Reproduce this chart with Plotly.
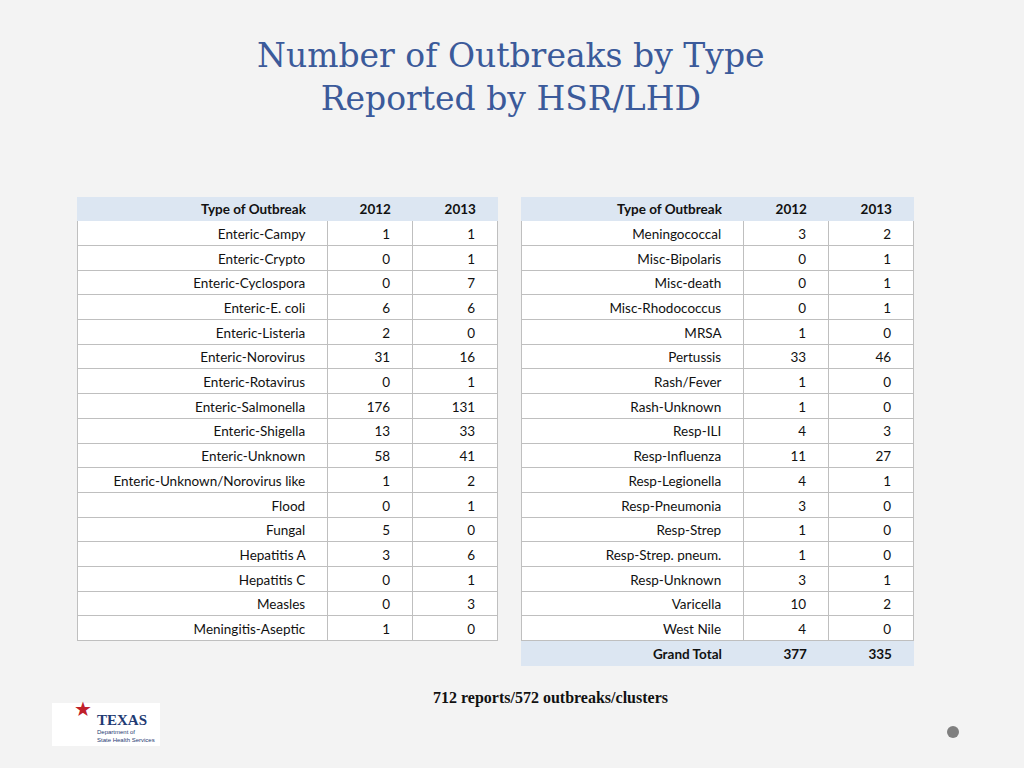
import plotly.graph_objects as go

left_types = ["Enteric-Campy","Enteric-Crypto","Enteric-Cyclospora","Enteric-E. coli","Enteric-Listeria",
              "Enteric-Norovirus","Enteric-Rotavirus","Enteric-Salmonella","Enteric-Shigella","Enteric-Unknown",
              "Enteric-Unknown/Norovirus like","Flood","Fungal","Hepatitis A","Hepatitis C","Measles","Meningitis-Aseptic"]
left_2012 = [1,0,0,6,2,31,0,176,13,58,1,0,5,3,0,0,1]
left_2013 = [1,1,7,6,0,16,1,131,33,41,2,1,0,6,1,3,0]

right_types = ["Meningococcal","Misc-Bipolaris","Misc-death","Misc-Rhodococcus","MRSA","Pertussis","Rash/Fever",
               "Rash-Unknown","Resp-ILI","Resp-Influenza","Resp-Legionella","Resp-Pneumonia","Resp-Strep",
               "Resp-Strep. pneum.","Resp-Unknown","Varicella","West Nile"]
right_2012 = [3,0,0,0,1,33,1,1,4,11,4,3,1,1,3,10,4]
right_2013 = [2,1,1,1,0,46,0,0,3,27,1,0,0,0,1,2,0]
total_label = "Grand Total"
total_2012 = 377
total_2013 = 335
headers = ["Type of Outbreak", "2012", "2013"]

NB = "\u00a0"
def pad(v, n=4):
    return f"{v}" + NB * n

W, H = 1024, 768
BG = "#f3f3f3"
ROW = 24.7
HDR_GAP = 16   # empty plotly header height, hidden above each table
fig = go.Figure()
hfill = "#dce6f2"
line = "#bfbfbf"

def table(x0, x1, widths, top_px, cols, fill, lcolor, weight):
    fig.add_trace(go.Table(
        domain=dict(x=[x0 / W, x1 / W], y=[0.0, 1 - (top_px - HDR_GAP) / H]),
        columnwidth=widths,
        header=dict(values=[], fill_color=BG, line_color=BG),
        cells=dict(values=[[pad(v) for v in c] for c in cols], align="right", height=ROW,
                   fill_color=fill, line_color=lcolor,
                   font=dict(family="Lato, Open Sans, sans-serif", size=13.5, color="#111",
                             weight=weight)),
    ))

def add_block(x0, x1, widths, names, a, b, total=None):
    top = 196
    n = len(names)
    if total is not None:
        table(x0, x1, widths, top + ROW * (n + 1), [[total[0]], [total[1]], [total[2]]],
              hfill, hfill, "bold")
    table(x0, x1, widths, top + ROW, [names, a, b], "white", line, "normal")
    table(x0, x1, widths, top, [[h] for h in headers], hfill, hfill, "bold")

add_block(77, 497, [250, 85, 85], left_types, left_2012, left_2013)
add_block(521, 913, [222, 85, 85], right_types, right_2012, right_2013,
          (total_label, total_2012, total_2013))

fig.add_annotation(x=511 / W, y=1 - 34 / H, xref="paper", yref="paper", showarrow=False,
                   yanchor="top", xanchor="center",
                   text="Number of Outbreaks by Type<br>Reported by HSR/LHD",
                   font=dict(family="DejaVu Serif, serif", size=33, color="#3b5a9a"))
fig.add_annotation(x=550 / W, y=1 - 698 / H, xref="paper", yref="paper", showarrow=False,
                   yanchor="middle",
                   text="<b>712 reports/572 outbreaks/clusters</b>",
                   font=dict(family="Liberation Serif, serif", size=16, color="#111"))
fig.add_shape(type="rect", x0=52 / W, x1=160 / W, y0=1 - 746 / H, y1=1 - 703 / H,
              xref="paper", yref="paper", fillcolor="white", line=dict(width=0))
fig.add_annotation(x=95 / W, y=1 - 720 / H, xref="paper", yref="paper", showarrow=False,
                   xanchor="left", yanchor="middle", text="<b>TEXAS</b>",
                   font=dict(family="Liberation Serif, serif", size=15, color="#1f3b73"))
fig.add_annotation(x=95 / W, y=1 - 736 / H, xref="paper", yref="paper", showarrow=False,
                   xanchor="left", yanchor="middle", text="Department of<br>State Health Services",
                   align="left",
                   font=dict(family="Liberation Sans, sans-serif", size=6, color="#1f3b73"))
fig.add_annotation(x=72 / W, y=1 - 724 / H, xref="paper", yref="paper", showarrow=False,
                   text="★", font=dict(size=20, color="#c0202a"))
fig.add_shape(type="circle", x0=947 / W, x1=959 / W, y0=1 - 738 / H, y1=1 - 726 / H,
              xref="paper", yref="paper", fillcolor="#7f7f7f", line=dict(width=0))

fig.update_layout(width=W, height=H, margin=dict(l=0, r=0, t=0, b=0),
                  paper_bgcolor=BG, plot_bgcolor=BG)
fig.write_html("out.html", config={"displayModeBar": False},
               post_script="document.body.style.margin='0';")
